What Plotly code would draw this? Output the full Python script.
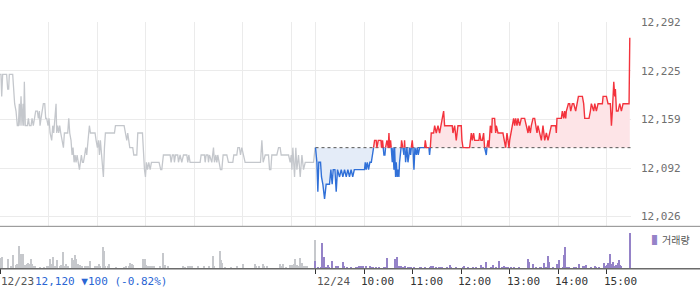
import plotly.graph_objects as go

# ---------------- data ----------------
PREV_CLOSE = 12120
DAY_LEN = 390  # minutes 09:00-15:30

# 12/23 intraday (minutes after 09:00, price)
prev_t = [0, 1.2, 2.1, 3.3, 8.2, 9.5, 10.7, 11.5, 15.7, 16.9, 18.1, 19.8, 21.4, 22.7, 23.9, 24.7, 26, 27.2, 28.5, 29.3,
          30.1, 31.3, 33.8, 35.1, 36.3, 38.4, 39.6, 41.2, 42.9, 44.1, 46.2, 47.4, 48.7, 49.5, 50.7, 52.4, 53.6, 55.3, 56.5, 57.7,
          59.4, 60.6, 61.9, 63.9, 65.2, 66.4, 68, 69.3, 70.1, 71.3, 72.6, 73.8, 75.1, 76.7, 78.4, 79.6, 83.7, 85, 86.2, 87.8,
          89.1, 90.3, 91.6, 92.8, 94, 95.3, 96.5, 98.2, 99.4, 100.6, 101.9, 103.1, 104.7, 106, 107.2, 108.9, 110.5, 111.8, 117.5, 118.8,
          120.4, 121.7, 122.9, 124.1, 125.4, 126.6, 127.8, 129.1, 130.3, 141.5, 142.7, 153.4, 155.1, 156.7, 157.9, 159.2, 160.4, 164.1, 165.4, 169.1,
          170.3, 176.1, 177.3, 178.6, 179.8, 181, 182.3, 183.9, 185.6, 187.2, 191.7, 196.6, 198.7, 200, 202, 210.3, 211.5, 213.1, 214.8, 215.6,
          216.9, 219.7, 220.6, 222.6, 224.7, 226.8, 230.9, 232.1, 233.4, 235, 247.4, 248.6, 252.7, 253.6, 254.8, 256.9, 257.7, 258.9, 261.8, 263.9,
          265.1, 266.8, 268, 269.2, 270.9, 272.5, 274.2, 275.8, 280.4, 282.4, 287.8, 289, 292.7, 294, 296, 297.3, 298.9, 300.6, 303, 322,
          323.7, 325.3, 327.8, 331.9, 333.2, 334.8, 336, 342.2, 344.3, 346.3, 347.6, 356.7, 358.7, 360, 360.8, 362, 364.1, 365.7, 367, 369,
          371.1, 373.2, 375.2, 377.3, 387.6, 389.5]
prev_price = [12220, 12220, 12190, 12220, 12220, 12200, 12200, 12220, 12220, 12200, 12180, 12170, 12150, 12150, 12180, 12150, 12190, 12150, 12180, 12150,
              12210, 12150, 12150, 12160, 12150, 12150, 12160, 12150, 12160, 12170, 12170, 12160, 12170, 12150, 12160, 12170, 12180, 12180, 12160, 12160,
              12150, 12160, 12140, 12130, 12150, 12140, 12160, 12180, 12140, 12150, 12140, 12150, 12140, 12130, 12120, 12140, 12140, 12160, 12140, 12130,
              12110, 12120, 12100, 12110, 12100, 12110, 12100, 12090, 12100, 12110, 12100, 12100, 12110, 12120, 12110, 12130, 12150, 12140, 12140, 12130,
              12120, 12130, 12110, 12130, 12110, 12100, 12080, 12120, 12140, 12140, 12150, 12150, 12140, 12130, 12140, 12130, 12120, 12120, 12110, 12110,
              12140, 12140, 12110, 12090, 12080, 12100, 12090, 12100, 12090, 12100, 12100, 12100, 12090, 12090, 12110, 12110, 12100, 12110, 12110, 12100,
              12110, 12110, 12100, 12110, 12100, 12110, 12110, 12100, 12110, 12100, 12100, 12110, 12110, 12100, 12110, 12110, 12100, 12110, 12100, 12120,
              12100, 12110, 12100, 12110, 12100, 12090, 12090, 12110, 12110, 12100, 12100, 12110, 12110, 12120, 12120, 12110, 12120, 12110, 12100, 12100,
              12130, 12100, 12110, 12110, 12090, 12090, 12110, 12110, 12120, 12120, 12110, 12110, 12100, 12110, 12090, 12120, 12080, 12120, 12090, 12110,
              12080, 12110, 12090, 12100, 12100, 12120]

# 12/24 intraday (minutes after 09:00, price)
today_t = [0, 1.7, 2.9, 4.1, 6.2, 7.4, 9.1, 11.2, 13.2, 17.3, 19, 20.6, 21.9, 24, 25.6, 27.2, 29.7, 31.8, 33.8, 35.9,
           38, 40, 42, 44, 46, 48, 60.6, 61.5, 62.7, 64, 65.6, 67.2, 69, 70.5, 71.8, 73, 75, 75.9, 77.6, 80.9,
           81.7, 82.9, 83.7, 84.6, 85.8, 86.6, 88.3, 89.9, 90.8, 91.6, 92.8, 93.6, 94.9, 95.7, 97, 97.8, 99, 99.8, 101, 101.9,
           103.1, 103.9, 105.2, 106.4, 108, 109.3, 110.1, 111.4, 113, 114.3, 115.5, 116.3, 117.6, 118.4, 119.6, 120.4, 121.7, 122.9, 124.6, 125.8,
           127, 128.7, 134.9, 135.7, 137, 140.2, 141, 141.9, 143.1, 146, 147.3, 149.3, 151.4, 153.4, 155.5, 156.7, 158.4, 159.6, 169, 169.9,
           172, 174, 176.1, 180.2, 181, 182.3, 190.5, 192.6, 193.8, 195.4, 196.7, 202, 202.9, 204.5, 206.2, 207.8, 209, 211.1, 211.9, 213.2,
           214.4, 216.1, 217.7, 218.5, 221.4, 222.7, 223.5, 225.6, 231.7, 233.8, 235, 236.7, 237.9, 239.2, 240, 242, 243.3, 244.9, 246.2, 247.4,
           249.1, 250.3, 252.4, 254.4, 258.5, 260.6, 262.7, 263.9, 265.6, 266.8, 268.9, 270.9, 272.2, 273.8, 275, 277.1, 279.2, 281.2, 283.3, 285.4,
           287.4, 289.5, 291.5, 296.9, 297.7, 298.5, 303.9, 305.1, 306.8, 308, 309.3, 310.1, 312.6, 314.2, 315.5, 317.5, 319.2, 321.6, 323.3, 325,
           329.9, 331.5, 332.8, 338.1, 339.8, 341, 343.9, 345.2, 347.2, 349.3, 354.6, 355.5, 359.6, 361.6, 364.5, 365.8, 367, 368.7, 369.9, 370.7,
           372, 374, 376.1, 378.1, 380.2, 387.6, 388.5]
today_price = [12120, 12100, 12060, 12100, 12100, 12080, 12070, 12050, 12070, 12070, 12090, 12070, 12090, 12090, 12060, 12090, 12080, 12090, 12080, 12090,
               12080, 12090, 12080, 12090, 12080, 12090, 12090, 12100, 12090, 12100, 12090, 12100, 12100, 12110, 12120, 12130, 12130, 12120, 12130, 12130,
               12120, 12130, 12120, 12110, 12110, 12120, 12130, 12120, 12140, 12120, 12130, 12120, 12100, 12120, 12090, 12120, 12080, 12100, 12080, 12090,
               12080, 12100, 12110, 12130, 12120, 12110, 12130, 12100, 12120, 12100, 12110, 12120, 12110, 12120, 12130, 12120, 12090, 12120, 12110, 12120,
               12110, 12120, 12120, 12130, 12120, 12120, 12110, 12120, 12140, 12140, 12150, 12140, 12150, 12140, 12150, 12160, 12170, 12150, 12150, 12140,
               12150, 12130, 12150, 12150, 12130, 12120, 12120, 12140, 12130, 12140, 12130, 12130, 12140, 12130, 12130, 12140, 12120, 12110, 12120, 12130,
               12120, 12150, 12140, 12160, 12160, 12140, 12150, 12140, 12140, 12130, 12120, 12140, 12130, 12120, 12130, 12140, 12150, 12160, 12150, 12160,
               12150, 12160, 12150, 12160, 12160, 12150, 12140, 12150, 12140, 12150, 12160, 12160, 12150, 12140, 12150, 12140, 12130, 12150, 12130, 12140,
               12130, 12140, 12150, 12150, 12140, 12160, 12160, 12170, 12160, 12170, 12160, 12170, 12180, 12180, 12170, 12180, 12180, 12170, 12180, 12190,
               12190, 12180, 12160, 12160, 12170, 12180, 12170, 12180, 12170, 12180, 12180, 12190, 12190, 12180, 12180, 12150, 12170, 12210, 12190, 12200,
               12170, 12170, 12180, 12170, 12180, 12180, 12270]

# volume (minute, shares)
prev_vol_t = [0, 2, 10, 14, 16, 20, 21, 24, 26, 27, 29, 31, 33, 35, 36, 38, 39, 41, 43, 50, 54, 58, 60, 62, 64, 66, 68, 70, 71, 74,
              76, 78, 80, 82, 84, 89, 91, 93, 94, 97, 99, 101, 105, 107, 109, 111, 117, 120, 122, 124, 127, 128, 130, 133, 135, 144, 153, 156, 159, 161,
              163, 165, 177, 179, 181, 183, 186, 188, 190, 198, 202, 204, 208, 226, 229, 233, 235, 237, 245, 252, 258, 263, 264, 272, 273, 275, 278, 285, 293, 300,
              301, 315, 317, 320, 325, 326, 330, 346, 348, 350, 353, 359, 361, 363, 365, 367, 369, 371, 373, 375, 377, 379, 389]
prev_vol = [1000, 1130, 970, 230, 1330, 300, 400, 2230, 1400, 300, 1470, 330, 400, 500, 470, 970, 470, 230, 230, 130, 130, 230, 170, 970, 470, 1130, 170, 230, 870, 230,
            300, 1670, 170, 470, 230, 1030, 830, 1330, 900, 470, 370, 230, 230, 230, 170, 770, 170, 230, 470, 230, 2130, 1770, 230, 230, 470, 130, 130, 230, 230, 570,
            400, 300, 970, 970, 300, 230, 170, 230, 170, 170, 1570, 300, 170, 230, 130, 170, 230, 170, 170, 230, 170, 1230, 230, 1730, 800, 570, 130, 130, 230, 470,
            230, 470, 230, 170, 470, 230, 170, 400, 170, 400, 130, 300, 300, 470, 970, 300, 230, 1030, 570, 230, 230, 230, 2830]
today_vol_t = [0, 3, 7, 8, 9, 11, 13, 15, 17, 20, 21, 25, 28, 34, 35, 39, 44, 50, 52, 54, 56, 59, 62, 63, 67, 69, 71, 75, 79, 85,
               87, 89, 98, 101, 102, 104, 106, 108, 111, 114, 116, 118, 122, 129, 131, 135, 141, 143, 145, 149, 153, 155, 157, 162, 166, 168, 174, 182, 184, 188,
               195, 199, 205, 207, 211, 217, 219, 223, 227, 230, 233, 236, 238, 242, 246, 252, 263, 264, 269, 273, 277, 279, 282, 285, 287, 289, 294, 298, 300, 301,
               306, 307, 309, 311, 314, 320, 322, 326, 331, 333, 335, 341, 345, 347, 351, 357, 358, 360, 362, 364, 366, 368, 370, 372, 374, 375, 377, 378, 389]
today_vol = [730, 130, 70, 2530, 130, 1130, 130, 330, 130, 700, 130, 230, 230, 630, 230, 130, 130, 130, 130, 230, 230, 170, 230, 130, 230, 130, 130, 130, 130, 130,
             130, 1030, 930, 1130, 230, 230, 230, 130, 230, 130, 130, 130, 130, 130, 130, 130, 130, 230, 170, 130, 130, 130, 130, 130, 330, 130, 130, 130, 230, 130,
             130, 130, 330, 130, 630, 130, 330, 130, 730, 130, 230, 130, 130, 130, 130, 130, 930, 630, 430, 130, 130, 130, 530, 130, 1230, 630, 130, 430, 430, 830,
             130, 1330, 2130, 130, 130, 130, 130, 430, 230, 230, 330, 130, 230, 130, 130, 530, 230, 330, 530, 1430, 430, 630, 230, 330, 530, 830, 330, 230, 3630]

y_ticks = [12026, 12092, 12159, 12225, 12292]
y_tick_text = ["12,026", "12,092", "12,159", "12,225", "12,292"]
hour_labels = ["10:00", "11:00", "12:00", "13:00", "14:00", "15:00"]
hour_minutes = [60, 120, 180, 240, 300, 360]
prev_label = "12/23"
today_label = "12/24"
close_text = "12,120 \u25bc100 (-0.82%)"
legend_text = "거래량"

# ---------------- styling ----------------
W, H = 700, 289
PLOT_R = 631
GRAY_LINE = "#c4c7cc"
RED = "#f3333d"
BLUE = "#3070d8"
RED_FILL = "#fde4e7"
BLUE_FILL = "#e4ecf8"
PURPLE = "#9583c8"
GRAY_VOL = "#c6c8cc"
GRID = "#ebebeb"

def py(px):
    return 1 - px / H

today_x = [DAY_LEN + t for t in today_t]

# add crossing points with the previous close so colours split exactly
pts = []
for i in range(len(today_x)):
    if i > 0:
        x0, y0, x1, y1 = today_x[i - 1], today_price[i - 1], today_x[i], today_price[i]
        if (y0 - PREV_CLOSE) * (y1 - PREV_CLOSE) < 0:
            xc = x0 + (PREV_CLOSE - y0) * (x1 - x0) / (y1 - y0)
            pts.append((xc, PREV_CLOSE))
    pts.append((today_x[i], today_price[i]))

lines = {"r": ([], []), "b": ([], [])}
last_end = {"r": None, "b": None}
prev_col = "b"
for i in range(1, len(pts)):
    (x0, y0), (x1, y1) = pts[i - 1], pts[i]
    mid = (y0 + y1) / 2
    col = "r" if mid > PREV_CLOSE else ("b" if mid < PREV_CLOSE else prev_col)
    lx, ly = lines[col]
    if last_end[col] != (x0, y0):
        if lx:
            lx.append(None); ly.append(None)
        lx.append(x0); ly.append(y0)
    lx.append(x1); ly.append(y1)
    last_end[col] = (x1, y1)
    prev_col = col

ax_ = [p[0] for p in pts]
up_y = [max(p[1], PREV_CLOSE) for p in pts]
dn_y = [min(p[1], PREV_CLOSE) for p in pts]
base_y = [PREV_CLOSE] * len(pts)

fig = go.Figure()
fig.add_trace(go.Scatter(x=prev_t, y=prev_price, mode="lines",
                         line=dict(color=GRAY_LINE, width=1.3), hoverinfo="skip"))
fig.add_trace(go.Scatter(x=ax_, y=base_y, mode="lines", line=dict(width=0), hoverinfo="skip"))
fig.add_trace(go.Scatter(x=ax_, y=up_y, mode="lines", line=dict(width=0), fill="tonexty",
                         fillcolor=RED_FILL, hoverinfo="skip"))
fig.add_trace(go.Scatter(x=ax_, y=base_y, mode="lines", line=dict(width=0), hoverinfo="skip"))
fig.add_trace(go.Scatter(x=ax_, y=dn_y, mode="lines", line=dict(width=0), fill="tonexty",
                         fillcolor=BLUE_FILL, hoverinfo="skip"))
fig.add_trace(go.Scatter(x=[DAY_LEN, 2 * DAY_LEN], y=[PREV_CLOSE, PREV_CLOSE], mode="lines",
                         line=dict(color="#555555", width=1, dash="dot"), hoverinfo="skip"))
fig.add_trace(go.Scatter(x=lines["b"][0], y=lines["b"][1], mode="lines",
                         line=dict(color=BLUE, width=1.4), hoverinfo="skip"))
fig.add_trace(go.Scatter(x=lines["r"][0], y=lines["r"][1], mode="lines",
                         line=dict(color=RED, width=1.4), hoverinfo="skip"))

fig.add_trace(go.Bar(x=prev_vol_t, y=prev_vol, width=1.3, marker=dict(color=GRAY_VOL, line=dict(width=0)),
                     xaxis="x2", yaxis="y2", hoverinfo="skip"))
fig.add_trace(go.Bar(x=[DAY_LEN + t for t in today_vol_t], y=today_vol, width=1.3,
                     marker=dict(color=PURPLE, line=dict(width=0)), xaxis="x2", yaxis="y2", hoverinfo="skip"))

grid_vals = [m for m in [0] + hour_minutes] + [DAY_LEN] + [DAY_LEN + m for m in hour_minutes]
tick2_vals = [0, DAY_LEN] + [DAY_LEN + m for m in hour_minutes]

mono = "DejaVu Sans Mono"
fig.update_layout(
    width=W, height=H, margin=dict(l=0, r=0, t=0, b=0),
    paper_bgcolor="white", plot_bgcolor="white", showlegend=False, bargap=0,
    xaxis=dict(domain=[0, PLOT_R / W], range=[0, 2 * DAY_LEN], tickvals=grid_vals, showticklabels=False,
               showgrid=True, gridcolor=GRID, gridwidth=1, zeroline=False, ticks="", showline=False),
    yaxis=dict(domain=[py(225), py(16)], range=[12012.6, 12292], side="right", tickvals=y_ticks,
               ticktext=y_tick_text, showgrid=True, gridcolor=GRID, gridwidth=1, zeroline=False,
               ticks="", ticklabelstandoff=9, tickfont=dict(family=mono, size=11, color="#6f6f6f")),
    xaxis2=dict(domain=[0, PLOT_R / W], range=[0, 2 * DAY_LEN], anchor="y2", tickvals=tick2_vals,
                showticklabels=False, ticks="outside", ticklen=5, tickwidth=1, tickcolor="#333333",
                showgrid=False, zeroline=False, showline=False),
    yaxis2=dict(domain=[py(268), py(227)], range=[0, 4100], visible=False),
)

# frame lines across the full width
fig.add_shape(type="line", xref="paper", yref="paper", x0=0, x1=1, y0=py(225), y1=py(225),
              line=dict(color="#8a8a8a", width=1))
fig.add_shape(type="line", xref="paper", yref="paper", x0=0, x1=1, y0=py(268.3), y1=py(268.3),
              line=dict(color="#6b6b6b", width=1.5))

lab_y = py(281.5)
lab_font = dict(family=mono, size=11, color="#555555")
fig.add_annotation(x=0, xref="x2", y=lab_y, yref="paper", text=prev_label, showarrow=False,
                   xanchor="left", yanchor="middle", xshift=-1, font=lab_font)
fig.add_annotation(x=0, xref="x2", y=lab_y, yref="paper", text=close_text, showarrow=False,
                   xanchor="left", yanchor="middle", xshift=33, font=dict(family=mono, size=11, color="#2a66d4"))
fig.add_annotation(x=DAY_LEN, xref="x2", y=lab_y, yref="paper", text=today_label, showarrow=False,
                   xanchor="left", yanchor="middle", xshift=-1, font=lab_font)
for m, lab in zip(hour_minutes, hour_labels):
    fig.add_annotation(x=DAY_LEN + m, xref="x2", y=lab_y, yref="paper", text=lab, showarrow=False,
                       xanchor="left", yanchor="middle", xshift=-5, font=dict(family=mono, size=11, color="#333333"))

fig.add_annotation(x=650 / W, xref="paper", y=py(238), yref="paper",
                   text=f'<span style="color:{PURPLE}">▌</span>{legend_text}', showarrow=False,
                   xanchor="left", yanchor="middle",
                   font=dict(family="Noto Sans CJK KR", size=10, color="#555555"))

fig.write_html("out.html")
